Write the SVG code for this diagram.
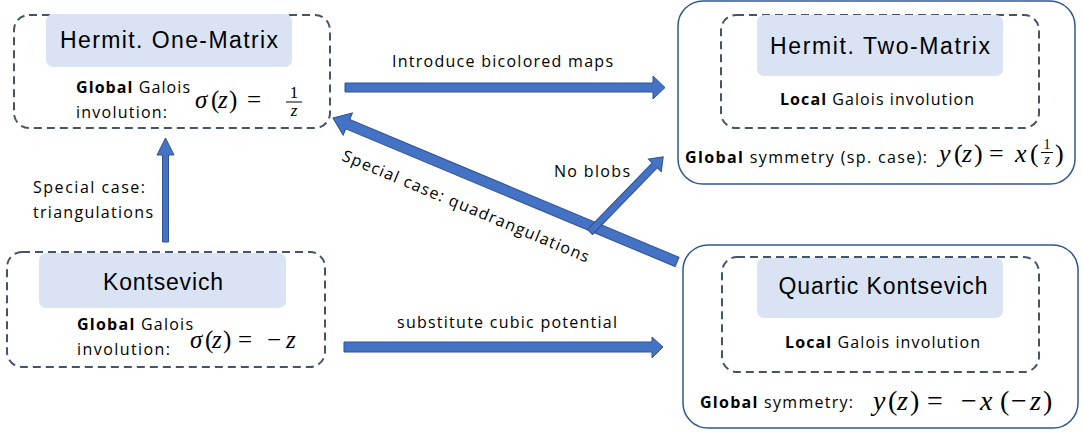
<svg xmlns="http://www.w3.org/2000/svg" width="1083" height="434" viewBox="0 0 1083 434">
<style>
.dash{fill:none;stroke:#44546a;stroke-width:2;stroke-dasharray:8 5}
.outer{fill:#fff;stroke:#2f5597;stroke-width:1.5}
.title{fill:#dae3f3}
.t{font-family:"Liberation Sans",Arial,sans-serif;fill:#000}
.tt{font-size:23px}
.s{font-family:"Open Sans","Liberation Sans",sans-serif;font-size:16px}
.b{font-weight:bold}
.m{font-family:"Liberation Serif","DejaVu Serif",serif;fill:#000;font-size:25px}
.i{font-style:italic}
.arr{fill:#4472c4;stroke:#2f528f;stroke-width:1}
</style>
<rect width="1083" height="434" fill="#fff"/>

<g id="node-hermit-one">
<rect class="dash" x="14" y="15" width="316" height="113" rx="15"/>
<rect class="title" x="46" y="14" width="246" height="53" rx="7"/>
<text class="t tt" x="169" y="48" text-anchor="middle" textLength="218">Hermit. One-Matrix</text>
<text class="t s" x="76" y="93" textLength="114"><tspan class="b">Global</tspan> Galois</text>
<text class="t s" x="76" y="118" textLength="91">involution:</text>
<text class="m" y="108"><tspan class="i" x="195">σ</tspan><tspan x="211">(</tspan><tspan class="i" x="218">z</tspan><tspan x="229">)</tspan><tspan x="247">=</tspan></text>
<text class="m" style="font-size:17px" x="294" y="98" text-anchor="middle">1</text>
<line x1="286" y1="102" x2="302" y2="102" stroke="#000" stroke-width="1"/>
<text class="m i" style="font-size:17px" x="294" y="116" text-anchor="middle">z</text>
</g>

<g id="node-hermit-two">
<rect class="outer" x="678" y="1" width="397" height="183" rx="25"/>
<rect class="dash" x="721" y="15" width="318" height="113" rx="15"/>
<rect class="title" x="757" y="15" width="246" height="61" rx="7"/>
<text class="t tt" x="880" y="54" text-anchor="middle" textLength="220">Hermit. Two-Matrix</text>
<text class="t s" x="780" y="105" textLength="194"><tspan class="b">Local</tspan> Galois involution</text>
<text class="t s" x="685" y="163" textLength="242"><tspan class="b">Global</tspan> symmetry (sp. case):</text>
<text class="m" style="font-size:26px" y="162"><tspan class="i" x="939">y</tspan><tspan x="954">(</tspan><tspan class="i" x="962">z</tspan><tspan x="974">)</tspan><tspan x="989">=</tspan><tspan class="i" x="1015">x</tspan><tspan x="1030">(</tspan><tspan x="1055">)</tspan></text>
<text class="m" style="font-size:14px" x="1047" y="149" text-anchor="middle">1</text>
<line x1="1041" y1="152.5" x2="1053" y2="152.5" stroke="#000" stroke-width="1"/>
<text class="m i" style="font-size:14px" x="1047" y="164" text-anchor="middle">z</text>
</g>

<g id="node-kontsevich">
<rect class="dash" x="7" y="252" width="318" height="115" rx="15"/>
<rect class="title" x="39" y="253" width="247" height="55" rx="7"/>
<text class="t tt" x="163" y="290" text-anchor="middle" textLength="120">Kontsevich</text>
<text class="t s" x="77" y="330" textLength="116"><tspan class="b">Global</tspan> Galois</text>
<text class="t s" x="77" y="355" textLength="93">involution:</text>
<text class="m" y="348"><tspan class="i" x="190">σ</tspan><tspan x="205">(</tspan><tspan class="i" x="212">z</tspan><tspan x="223">)</tspan><tspan x="238">=</tspan><tspan x="267">−</tspan><tspan class="i" x="286">z</tspan></text>
</g>

<g id="node-quartic">
<rect class="outer" x="683" y="245" width="395" height="183" rx="25"/>
<rect class="dash" x="722" y="257" width="317" height="115" rx="15"/>
<rect class="title" x="757" y="258" width="246" height="60" rx="7"/>
<text class="t tt" x="883" y="294" text-anchor="middle" textLength="209">Quartic Kontsevich</text>
<text class="t s" x="785" y="348" textLength="195"><tspan class="b">Local</tspan> Galois involution</text>
<text class="t s" x="700" y="408" textLength="153"><tspan class="b">Global</tspan> symmetry:</text>
<text class="m" style="font-size:28px" y="410"><tspan class="i" x="873">y</tspan><tspan x="888">(</tspan><tspan class="i" x="897">z</tspan><tspan x="910">)</tspan><tspan x="927">=</tspan><tspan x="961">−</tspan><tspan class="i" x="980">x</tspan><tspan x="1000">(</tspan><tspan x="1011">−</tspan><tspan class="i" x="1030">z</tspan><tspan x="1043">)</tspan></text>
</g>

<g id="connectors">
<polygon class="arr" points="345,83 653,83 653,76 665,87.5 653,99 653,92 345,92"/>
<text class="t s" x="392" y="67" textLength="221">Introduce bicolored maps</text>

<polygon class="arr" points="344,342 652,342 652,337 663,347 652,358 652,352 344,352"/>
<text class="t s" x="397" y="328" textLength="220">substitute cubic potential</text>

<polygon class="arr" points="162.5,242 162.5,155 157,155 165.5,138 174,155 168.5,155 168.5,242"/>
<text class="t s" x="33" y="193" textLength="112">Special case:</text>
<text class="t s" x="33" y="218" textLength="120">triangulations</text>

<polygon class="arr" transform="translate(333,118) rotate(22.7)" points="0,0 16,-12 16,-5 373,-5 373,5 16,5 16,12"/>
<text class="t s" transform="translate(341,160) rotate(22.7)" x="0" y="0" textLength="266">Special case: quadrangulations</text>

<polygon class="arr" transform="translate(590,232) rotate(-45.8)" points="0,-3.5 93,-3.5 93,-9 105,0 93,9 93,3.5 0,3.5"/>
<text class="t s" x="554" y="177" textLength="76">No blobs</text>
</g>
</svg>
